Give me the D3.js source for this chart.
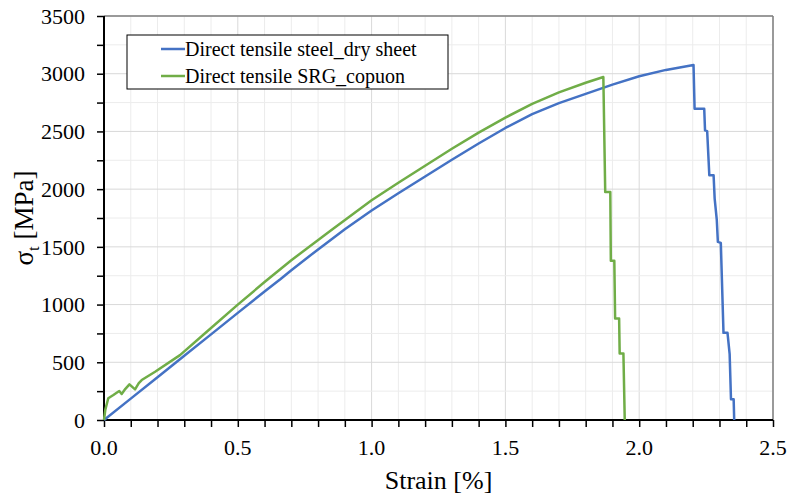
<!DOCTYPE html>
<html>
<head>
<meta charset="utf-8">
<script src="https://cdn.jsdelivr.net/npm/d3@7"></script>
<style>
  body { margin: 0; background: #fff; }
</style>
</head>
<body>
<svg width="788" height="497" font-family="'Liberation Serif', 'Times New Roman', Times, 'DejaVu Serif', serif"></svg>
<script>
// strain [%], stress [MPa]
const steelStrain = [0, 0.1, 0.2, 0.3, 0.4, 0.5, 0.6, 0.66, 0.7, 0.8, 0.9, 1.0, 1.1, 1.2, 1.3, 1.4, 1.5, 1.6, 1.7, 1.8, 1.9, 2.0, 2.1, 2.203,
  2.207, 2.243, 2.246, 2.254, 2.262, 2.278, 2.282, 2.29, 2.294, 2.305, 2.315, 2.33, 2.338, 2.343, 2.353, 2.355];
const steelStress = [0, 185, 370, 556, 742, 928, 1114, 1222, 1298, 1478, 1652, 1815, 1965, 2110, 2255, 2395, 2530, 2650, 2745, 2825, 2905, 2978, 3033, 3075,
  2697, 2697, 2509, 2503, 2120, 2120, 1918, 1731, 1543, 1534, 755, 755, 571, 179, 179, 0];

const srgStrain = [0, 0.005, 0.016, 0.035, 0.05, 0.057, 0.066, 0.08, 0.095, 0.116, 0.13, 0.141, 0.191, 0.284, 0.384, 0.5, 0.6, 0.7, 0.845, 1.0, 1.1, 1.2, 1.3, 1.4, 1.5, 1.6, 1.7, 1.8, 1.866,
  1.873, 1.892, 1.894, 1.907, 1.91, 1.925, 1.927, 1.941, 1.946];
const srgStress = [0, 90, 188, 216, 240, 251, 225, 270, 309, 265, 320, 346, 418, 562, 764, 1000, 1195, 1384, 1638, 1904, 2055, 2203, 2350, 2490, 2620, 2738, 2838, 2922, 2971,
  1976, 1976, 1379, 1379, 880, 880, 577, 577, 0];

const seriesNames = ['Direct tensile steel_dry sheet', 'Direct tensile SRG_copuon'];
const seriesColors = ['#4472C4', '#70AD47'];

const xTicks = [0, 0.5, 1.0, 1.5, 2.0, 2.5];
const yTicks = [0, 500, 1000, 1500, 2000, 2500, 3000, 3500];
const xMinor = d3.range(0, 2.5001, 0.1);
const yMinor = d3.range(0, 3501, 250);

const svg = d3.select('svg');
const width = +svg.attr('width');
const height = +svg.attr('height');
const margin = {top: 16, right: 15, bottom: 77, left: 104};
const innerWidth = width - margin.left - margin.right;
const innerHeight = height - margin.top - margin.bottom;

const xScale = d3.scaleLinear().domain([0, 2.5]).range([0, innerWidth]);
const yScale = d3.scaleLinear().domain([0, 3500]).range([innerHeight, 0]);

const g = svg.append('g').attr('transform', `translate(${margin.left},${margin.top})`);

// gridlines
g.append('g').selectAll('line').data(xMinor).enter().append('line')
  .attr('x1', d => xScale(d)).attr('x2', d => xScale(d))
  .attr('y1', 0).attr('y2', innerHeight)
  .attr('stroke', (d, i) => i % 5 === 0 ? '#d9d9d9' : '#ececec').attr('stroke-width', 1);
g.append('g').selectAll('line').data(yMinor).enter().append('line')
  .attr('y1', d => yScale(d)).attr('y2', d => yScale(d))
  .attr('x1', 0).attr('x2', innerWidth)
  .attr('stroke', (d, i) => i % 2 === 0 ? '#d9d9d9' : '#ececec').attr('stroke-width', 1);

// frame top/right
g.append('line').attr('x1', 0).attr('x2', innerWidth).attr('y1', 0).attr('y2', 0)
  .attr('stroke', '#7f7f7f').attr('stroke-width', 1.5);
g.append('line').attr('x1', innerWidth).attr('x2', innerWidth).attr('y1', 0).attr('y2', innerHeight)
  .attr('stroke', '#7f7f7f').attr('stroke-width', 1.5);

// axes
const xAxis = d3.axisBottom(xScale).tickValues(xMinor).tickSize(7).tickFormat('');
const yAxis = d3.axisLeft(yScale).tickValues(yMinor).tickSize(7).tickFormat('');

const xAxisG = g.append('g').attr('transform', `translate(0,${innerHeight})`).call(xAxis);
const yAxisG = g.append('g').call(yAxis);
[xAxisG, yAxisG].forEach(a => {
  a.selectAll('.domain').remove();
  a.selectAll('.tick line').attr('stroke', '#000').attr('stroke-width', 1.5);
});
g.append('line').attr('x1', 0).attr('x2', innerWidth).attr('y1', innerHeight).attr('y2', innerHeight)
  .attr('stroke', '#000').attr('stroke-width', 2);
g.append('line').attr('x1', 0).attr('x2', 0).attr('y1', 0).attr('y2', innerHeight)
  .attr('stroke', '#000').attr('stroke-width', 2);

g.append('g').selectAll('text').data(xTicks).enter().append('text')
  .attr('x', d => xScale(d)).attr('y', innerHeight + 35)
  .attr('text-anchor', 'middle').attr('font-size', 22).attr('fill', '#000')
  .text(d => d3.format('.1f')(d));
g.append('g').selectAll('text').data(yTicks).enter().append('text')
  .attr('x', -19).attr('y', d => yScale(d)).attr('dy', '0.35em')
  .attr('text-anchor', 'end').attr('font-size', 22).attr('fill', '#000')
  .text(d => d);

// axis titles
svg.append('text')
  .attr('x', margin.left + innerWidth / 2).attr('y', 489)
  .attr('text-anchor', 'middle').attr('font-size', 26).attr('fill', '#000')
  .text('Strain [%]');

const yTitle = svg.append('text')
  .attr('transform', `translate(33,${margin.top + innerHeight / 2}) rotate(-90)`)
  .attr('text-anchor', 'middle').attr('font-size', 27).attr('fill', '#000');
yTitle.append('tspan').text('σ');
yTitle.append('tspan').attr('font-size', 17).attr('dy', 6).text('t');
yTitle.append('tspan').attr('dy', -6).text(' [MPa]');

// curves
const line = d3.line().x(d => xScale(d[0])).y(d => yScale(d[1]));
const series = [
  d3.zip(steelStrain, steelStress),
  d3.zip(srgStrain, srgStress)
];
g.selectAll('path.curve').data(series).enter().append('path')
  .attr('class', 'curve')
  .attr('d', line)
  .attr('fill', 'none')
  .attr('stroke', (d, i) => seriesColors[i])
  .attr('stroke-width', 2.5)
  .attr('stroke-linejoin', 'round');

// legend
const legend = svg.append('g').attr('transform', 'translate(127,35)');
legend.append('rect').attr('width', 321).attr('height', 54)
  .attr('fill', '#fff').attr('stroke', '#000').attr('stroke-width', 1);
seriesNames.forEach((name, i) => {
  const row = legend.append('g').attr('transform', `translate(0,${14 + i * 27})`);
  row.append('line').attr('x1', 34).attr('x2', 58).attr('y1', 0).attr('y2', 0)
    .attr('stroke', seriesColors[i]).attr('stroke-width', 2.5);
  row.append('text').attr('x', 58).attr('y', 0).attr('dy', '0.33em')
    .attr('font-size', 20).attr('fill', '#000').text(name);
});
</script>
</body>
</html>
